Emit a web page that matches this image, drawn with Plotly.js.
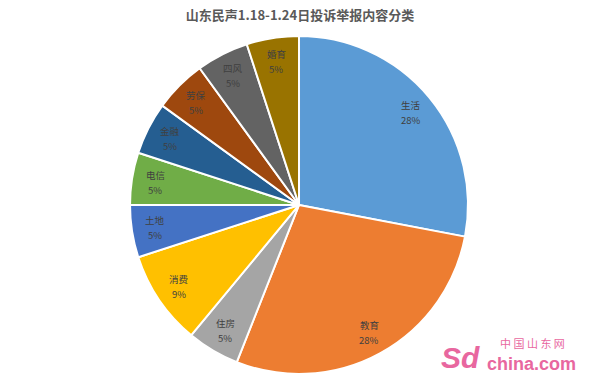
<!DOCTYPE html>
<html><head><meta charset="utf-8">
<script src="https://cdn.plot.ly/plotly-3.0.1.min.js"></script>
<style>html,body{margin:0;padding:0;background:#fff;}#chart{width:600px;height:386px;}</style>
</head><body><div id="chart"></div>
<script>
const categories = ['生活','教育','住房','消费','土地','电信','金融','劳保','四风','婚育'];
const values = [28, 28, 5, 9, 5, 5, 5, 5, 5, 5];
const percentLabels = ['28%','28%','5%','9%','5%','5%','5%','5%','5%','5%'];
const colors = ['#5B9BD5','#ED7D31','#A5A5A5','#FFC000','#4472C4','#70AD47','#255E91','#9E480E','#636363','#997300'];

const W = 600, H = 386;
const domX = [0.2167, 0.78], domY = [0.031, 0.907];
const cx = (domX[0] + domX[1]) / 2 * W;
const cyFromBottom = (domY[0] + domY[1]) / 2 * H;
const R = Math.min((domX[1]-domX[0])*W, (domY[1]-domY[0])*H) / 2;

const total = values.reduce((a,b)=>a+b,0);
let cum = 0;
const annotations = [];
const lblFont = {family:'Noto Sans CJK SC, sans-serif', size:9.5, color:'#404040'};
values.forEach((v,i)=>{
  const mid = (cum + v/2) / total * 2 * Math.PI;
  cum += v;
  const rf = 0.86;
  const px = cx + R*rf*Math.sin(mid);
  const py = cyFromBottom + R*rf*Math.cos(mid);
  annotations.push({
    x: px / W, y: (py - 0.5) / H, xref:'paper', yref:'paper', showarrow:false,
    xanchor:'center', yanchor:'bottom', borderpad:0,
    text: categories[i], font:lblFont
  });
  annotations.push({
    x: px / W, y: (py + 0.5) / H, xref:'paper', yref:'paper', showarrow:false,
    xanchor:'center', yanchor:'top', borderpad:0,
    text: percentLabels[i], font:lblFont
  });
});
// watermark
annotations.push({x:482/W, y:(H-357)/H, xref:'paper', yref:'paper', showarrow:false, xanchor:'right', yanchor:'middle',
  text:'<b><i>Sd</i></b>', font:{family:'Liberation Sans, sans-serif', size:30, color:'#E8679F'}});
annotations.push({x:532/W, y:(H-343)/H, xref:'paper', yref:'paper', showarrow:false, xanchor:'center', yanchor:'middle',
  text:'中 国 山 东 网', font:{family:'Noto Sans CJK SC, sans-serif', size:11, color:'#E8679F'}});
annotations.push({x:485/W, y:(H-364)/H, xref:'paper', yref:'paper', showarrow:false, xanchor:'left', yanchor:'middle',
  text:'<b>china.com</b>', font:{family:'Liberation Sans, sans-serif', size:18, color:'#E8679F'}});

const data = [{
  type:'pie', labels:categories, values:values, sort:false, direction:'clockwise', rotation:0,
  marker:{colors:colors, line:{color:'#ffffff', width:2}},
  textinfo:'none', hoverinfo:'label+percent',
  domain:{x:domX, y:domY}, showlegend:false
}];
const layout = {
  width:W, height:H, margin:{l:0,r:0,t:0,b:0},
  paper_bgcolor:'#ffffff',
  title:{text:'<b>山东民声1.18-1.24日投诉举报内容分类</b>', x:0.5, xanchor:'center', y:0.96, yanchor:'middle',
    font:{family:'Noto Sans CJK SC, sans-serif', size:13, color:'#595959'}},
  annotations:annotations, showlegend:false
};
Plotly.newPlot('chart', data, layout, {displayModeBar:false, staticPlot:true});
</script></body></html>
